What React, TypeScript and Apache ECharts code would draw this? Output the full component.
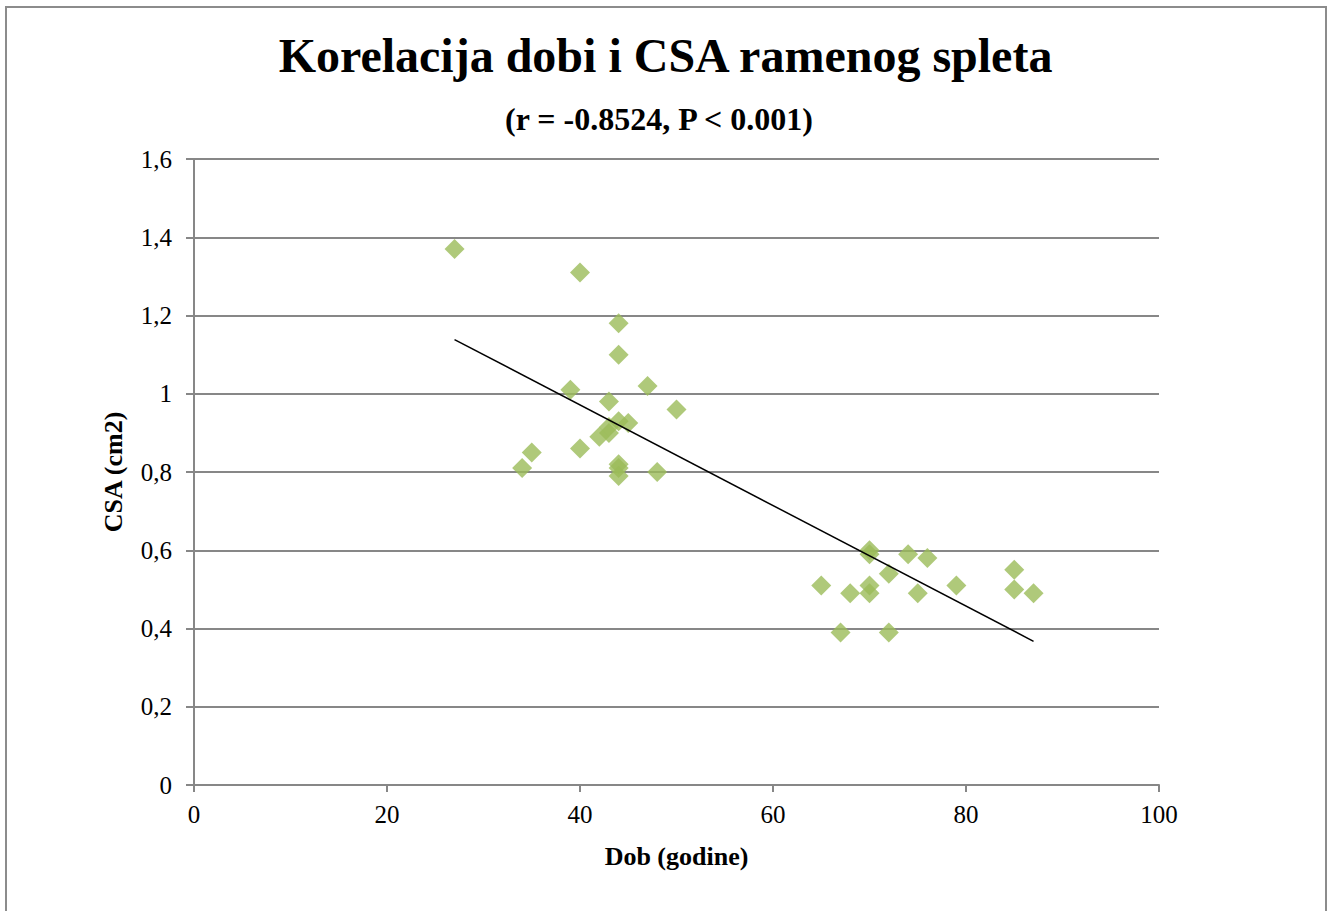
import React, { useEffect, useRef } from "react";
import * as echarts from "echarts";

const ages: number[] = [
  27, 40, 44, 44, 39, 47, 43, 50, 45, 44, 43, 42, 43, 40, 35, 34, 44, 44, 44, 48,
  70, 70, 74, 76, 72, 65, 68, 70, 70, 75, 79, 85, 85, 87, 67, 72,
];
const csa: number[] = [
  1.37, 1.31, 1.18, 1.1, 1.01, 1.02, 0.98, 0.96, 0.925, 0.93, 0.915, 0.89, 0.9, 0.86, 0.85, 0.81, 0.82, 0.81, 0.79, 0.8,
  0.6, 0.59, 0.59, 0.58, 0.54, 0.51, 0.49, 0.51, 0.49, 0.49, 0.51, 0.55, 0.5, 0.49, 0.39, 0.39,
];

const titleText = "Korelacija dobi i CSA ramenog spleta";
const subtitleText = "(r = -0.8524, P < 0.001)";
const xName = "Dob (godine)";
const yName = "CSA (cm2)";

const FONT = "'Liberation Serif', 'Times New Roman', serif";

function regression(xs: number[], ys: number[]) {
  const n = xs.length;
  const mx = xs.reduce((a, b) => a + b, 0) / n;
  const my = ys.reduce((a, b) => a + b, 0) / n;
  let sxy = 0;
  let sxx = 0;
  for (let i = 0; i < n; i++) {
    sxy += (xs[i] - mx) * (ys[i] - my);
    sxx += (xs[i] - mx) * (xs[i] - mx);
  }
  const slope = sxy / sxx;
  return { slope, intercept: my - slope * mx };
}

export default function App() {
  const ref = useRef<HTMLDivElement>(null);
  useEffect(() => {
    if (!ref.current) return;
    const chart = echarts.init(ref.current, undefined, { renderer: "svg" });
    const pts = ages.map((a, i) => [a, csa[i]]);
    const { slope, intercept } = regression(ages, csa);
    const xMin = Math.min(...ages);
    const xMax = Math.max(...ages);
    const trend = [
      [xMin, intercept + slope * xMin],
      [xMax, intercept + slope * xMax],
    ];
    const gridColor = "#878787";
    chart.setOption({
      animation: false,
      backgroundColor: "#ffffff",
      title: [
        {
          text: titleText,
          left: "center",
          top: 26,
          textStyle: { fontFamily: FONT, fontWeight: "bold", fontSize: 48, color: "#000" },
        },
        {
          text: subtitleText,
          left: 500,
          top: 98,
          textStyle: { fontFamily: FONT, fontWeight: "bold", fontSize: 32, color: "#000" },
        },
      ],
      graphic: [
        {
          type: "rect",
          shape: { x: 6, y: 7, width: 1320, height: 940 },
          style: { fill: "none", stroke: "#8c8c8c", lineWidth: 2 },
          silent: true,
        },
      ],
      grid: { left: 194, right: 172, top: 159, bottom: 126, containLabel: false },
      xAxis: {
        type: "value",
        min: 0,
        max: 100,
        interval: 20,
        name: xName,
        nameLocation: "middle",
        nameGap: 58,
        nameTextStyle: { fontFamily: FONT, fontWeight: "bold", fontSize: 26, color: "#000" },
        axisLine: { show: true, lineStyle: { color: gridColor, width: 2 } },
        axisTick: { show: true, length: 7, lineStyle: { color: gridColor, width: 2 } },
        axisLabel: { fontFamily: FONT, fontSize: 25, color: "#000", margin: 17 },
        splitLine: { show: false },
      },
      yAxis: {
        type: "value",
        min: 0,
        max: 1.6,
        interval: 0.2,
        name: yName,
        nameLocation: "middle",
        nameGap: 68,
        nameRotate: 90,
        nameTextStyle: { fontFamily: FONT, fontWeight: "bold", fontSize: 26, color: "#000" },
        axisLine: { show: true, lineStyle: { color: gridColor, width: 2 } },
        axisTick: { show: true, length: 8, lineStyle: { color: gridColor, width: 2 } },
        axisLabel: {
          fontFamily: FONT,
          fontSize: 25,
          color: "#000",
          margin: 22,
          formatter: (v: number) => String(Math.round(v * 10) / 10).replace(".", ","),
        },
        splitLine: { show: true, lineStyle: { color: gridColor, width: 2 } },
      },
      series: [
        {
          type: "scatter",
          data: pts,
          symbol: "diamond",
          symbolSize: 20,
          itemStyle: { color: "#9BBB59" },
          z: 3,
        },
        {
          type: "line",
          data: trend,
          symbol: "none",
          lineStyle: { color: "#000", width: 1.5 },
          z: 4,
          silent: true,
        },
      ],
    });
    return () => chart.dispose();
  }, []);
  return (
    <div
      ref={ref}
      style={{ position: "fixed", left: 0, top: 0, width: 1331, height: 911, background: "#fff" }}
    />
  );
}
